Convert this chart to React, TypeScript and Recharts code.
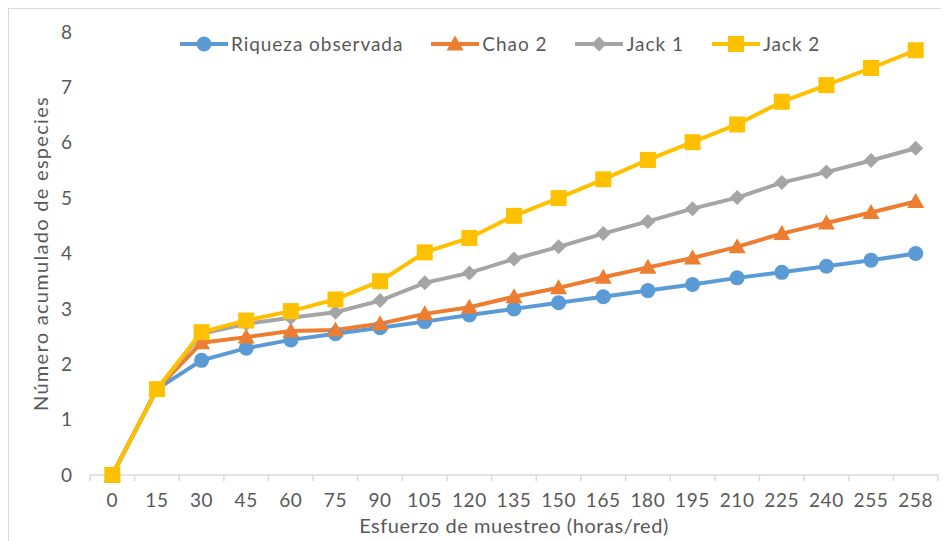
import { LineChart, Line, XAxis, YAxis, Label } from "recharts";

// Esfuerzo de muestreo (horas/red)
const esfuerzo = ["0", "15", "30", "45", "60", "75", "90", "105", "120", "135", "150", "165", "180", "195", "210", "225", "240", "255", "258"];

const riqueza = [0, 1.55, 2.07, 2.29, 2.44, 2.55, 2.66, 2.77, 2.89, 3.0, 3.11, 3.22, 3.33, 3.44, 3.56, 3.66, 3.77, 3.88, 4.0];
const chao2 = [0, 1.55, 2.39, 2.49, 2.6, 2.62, 2.73, 2.91, 3.03, 3.22, 3.38, 3.57, 3.75, 3.92, 4.12, 4.36, 4.55, 4.74, 4.94];
const jack1 = [0, 1.55, 2.55, 2.73, 2.84, 2.94, 3.15, 3.47, 3.65, 3.9, 4.12, 4.36, 4.58, 4.81, 5.01, 5.28, 5.47, 5.68, 5.9];
const jack2 = [0, 1.55, 2.58, 2.79, 2.96, 3.17, 3.5, 4.02, 4.28, 4.68, 5.0, 5.34, 5.69, 6.01, 6.33, 6.74, 7.04, 7.35, 7.67];

const yTicks = [0, 1, 2, 3, 4, 5, 6, 7, 8];

const data = esfuerzo.map((h, i) => ({
  h,
  riqueza: riqueza[i],
  chao2: chao2[i],
  jack1: jack1[i],
  jack2: jack2[i],
}));

type Shape = "circle" | "triangle" | "diamond" | "square";

const series: { key: string; name: string; color: string; shape: Shape }[] = [
  { key: "riqueza", name: "Riqueza observada", color: "#5B9BD5", shape: "circle" },
  { key: "chao2", name: "Chao 2", color: "#ED7D31", shape: "triangle" },
  { key: "jack1", name: "Jack 1", color: "#A5A5A5", shape: "diamond" },
  { key: "jack2", name: "Jack 2", color: "#FFC000", shape: "square" },
];

const TEXT = "#595959";
const AXIS = "#d9d9d9";
const FONT = "Lato, 'Open Sans', sans-serif";
const WIDTH = 941;
const HEIGHT = 533;
const PLOT_W = 848;
const BAND = PLOT_W / esfuerzo.length;

const Marker = ({ cx, cy, shape, color }: { cx: number; cy: number; shape: Shape; color: string }) => {
  if (cx == null || cy == null) return null;
  switch (shape) {
    case "circle":
      return <circle cx={cx} cy={cy} r={7.5} fill={color} />;
    case "triangle":
      return <polygon points={`${cx},${cy - 8.5} ${cx + 8.5},${cy + 6.5} ${cx - 8.5},${cy + 6.5}`} fill={color} />;
    case "diamond":
      return <polygon points={`${cx},${cy - 7.5} ${cx + 7.5},${cy} ${cx},${cy + 7.5} ${cx - 7.5},${cy}`} fill={color} />;
    default:
      return <rect x={cx - 8} y={cy - 8} width={16} height={16} fill={color} />;
  }
};

const XTick = ({ x, y, payload, index }: any) => (
  <g>
    <line x1={x - BAND / 2} x2={x - BAND / 2} y1={y} y2={y + 6} stroke={AXIS} strokeWidth={1.5} />
    {index === esfuerzo.length - 1 && (
      <line x1={x + BAND / 2} x2={x + BAND / 2} y1={y} y2={y + 6} stroke={AXIS} strokeWidth={1.5} />
    )}
    <text x={x} y={y + 32} textAnchor="middle" fill={TEXT} fontSize={19} letterSpacing={0.6}>
      {payload.value}
    </text>
  </g>
);

const LegendIcon = ({ shape, color }: { shape: Shape; color: string }) => (
  <svg width={48} height={20} style={{ display: "block" }}>
    <line x1={0} x2={48} y1={10} y2={10} stroke={color} strokeWidth={4} />
    <Marker cx={24} cy={10} shape={shape} color={color} />
  </svg>
);

export default function App() {
  return (
    <div style={{ position: "relative", width: WIDTH, height: HEIGHT, overflow: "hidden", fontFamily: FONT }}>
      <div
        style={{
          position: "absolute",
          left: -1,
          top: -1,
          width: WIDTH + 40,
          height: HEIGHT + 40,
          border: `2px solid ${AXIS}`,
        }}
      />
      <div
        style={{
          position: "absolute",
          left: 172,
          top: 24,
          display: "flex",
          alignItems: "center",
          gap: 28,
          color: TEXT,
          fontSize: 19,
          letterSpacing: 0.95,
          whiteSpace: "nowrap",
        }}
      >
        {series.map((s) => (
          <div key={s.key} style={{ display: "flex", alignItems: "center", gap: 3 }}>
            <LegendIcon shape={s.shape} color={s.color} />
            <span>{s.name}</span>
          </div>
        ))}
      </div>
      <LineChart
        width={WIDTH}
        height={HEIGHT}
        data={data}
        margin={{ top: 24, right: 11, left: 0, bottom: 10 }}
        style={{ position: "absolute", left: 0, top: 0 }}
      >
        <XAxis
          dataKey="h"
          interval={0}
          padding={{ left: BAND / 2, right: BAND / 2 }}
          height={56}
          tickSize={0}
          tickMargin={0}
          tickLine={false}
          axisLine={{ stroke: AXIS, strokeWidth: 1.5 }}
          tick={<XTick />}
        >
          <Label
            content={({ viewBox }: any) => (
              <text
                x={viewBox.x + viewBox.width / 2}
                y={viewBox.y + 58}
                textAnchor="middle"
                fill={TEXT}
                fontSize={20}
                letterSpacing={0.55}
              >
                Esfuerzo de muestreo (horas/red)
              </text>
            )}
          />
        </XAxis>
        <YAxis
          width={82}
          domain={[0, 8]}
          ticks={yTicks}
          interval={0}
          axisLine={false}
          tickLine={false}
          tickSize={0}
          tickMargin={18}
          tick={{ fill: TEXT, fontSize: 19 }}
        >
          <Label
            content={({ viewBox }: any) => {
              const cx = viewBox.x + 32;
              const cy = viewBox.y + viewBox.height / 2;
              return (
                <text
                  x={cx}
                  y={cy}
                  transform={`rotate(-90, ${cx}, ${cy})`}
                  textAnchor="middle"
                  dominantBaseline="central"
                  fill={TEXT}
                  fontSize={20}
                  letterSpacing={1.3}
                >
                  Número acumulado de especies
                </text>
              );
            }}
          />
        </YAxis>
        {series.map((s) => (
          <Line
            key={s.key}
            type="linear"
            dataKey={s.key}
            name={s.name}
            stroke={s.color}
            strokeWidth={4}
            isAnimationActive={false}
            dot={(p: any) => <Marker key={`${s.key}-${p.index}`} cx={p.cx} cy={p.cy} shape={s.shape} color={s.color} />}
            activeDot={false}
          />
        ))}
      </LineChart>
    </div>
  );
}
